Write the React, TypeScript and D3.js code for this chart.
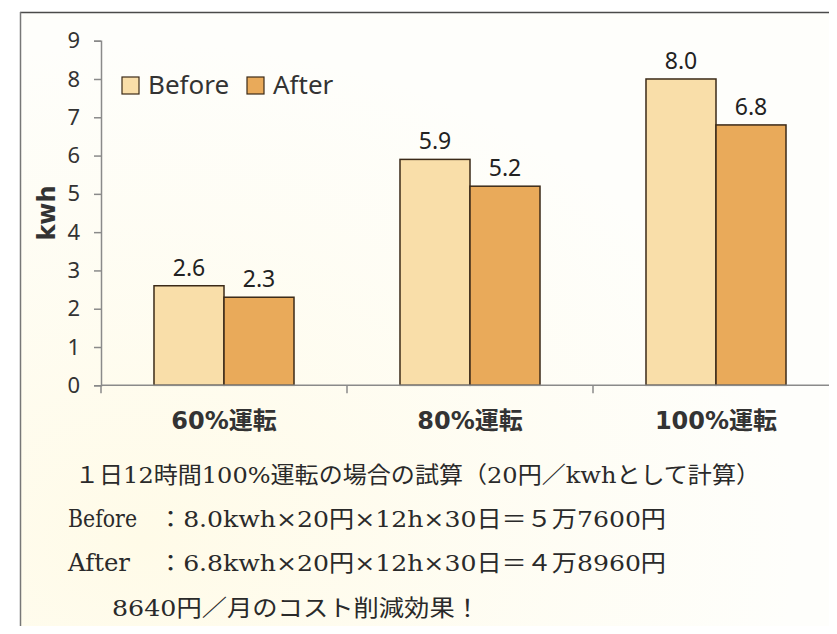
import React, { useEffect, useRef } from 'react';
import * as d3 from 'd3';

const categories = ['60%運転', '80%運転', '100%運転'];
const seriesNames = ['Before', 'After'];
const beforeValues = [2.6, 5.9, 8.0];
const afterValues = [2.3, 5.2, 6.8];
const yTicks = [0, 1, 2, 3, 4, 5, 6, 7, 8, 9];

const noteLine1 = '１日12時間100%運転の場合の試算（20円／kwhとして計算）';
const noteLabels = ['Before', 'After'];
const noteCalcs = ['：8.0kwh×20円×12h×30日＝５万7600円', '：6.8kwh×20円×12h×30日＝４万8960円'];
const noteLine4 = '8640円／月のコスト削減効果！';

const colors: Record<string, string> = { Before: '#f9dea9', After: '#e9aa5a' };

const W = 837;
const H = 634;

const App: React.FC = () => {
  const svgRef = useRef<SVGSVGElement>(null);

  useEffect(() => {
    if (!svgRef.current) return;
    const svg = d3.select(svgRef.current);
    svg.selectAll('*').remove();

    // paper background with a faint scan tint
    const defs = svg.append('defs');
    const grad = defs.append('radialGradient').attr('id', 'tint').attr('cx', '0.15').attr('cy', '0.85').attr('r', '0.8');
    grad.append('stop').attr('offset', '0%').attr('stop-color', '#fffbe8');
    grad.append('stop').attr('offset', '100%').attr('stop-color', '#fefefb');
    svg.append('rect').attr('width', W).attr('height', H).attr('fill', '#ffffff');
    svg.append('rect').attr('x', 20).attr('y', 12).attr('width', W - 20).attr('height', H - 12).attr('fill', 'url(#tint)');

    // frame
    svg.append('line').attr('x1', 20).attr('x2', W).attr('y1', 12.5).attr('y2', 12.5).attr('stroke', '#4a4a4a').attr('stroke-width', 1.5);
    svg.append('line').attr('x1', 20.5).attr('x2', 20.5).attr('y1', 12).attr('y2', H).attr('stroke', '#777').attr('stroke-width', 1.5);

    const plotLeft = 101;
    const y = d3.scaleLinear().domain([0, 9]).range([385.3, 40.7]);
    const x0 = d3.scaleBand<string>().domain(categories).range([plotLeft, plotLeft + 3 * 246]).padding(0);
    const x1 = d3.scaleBand<string>().domain(seriesNames).range([0, x0.bandwidth()]).paddingInner(0).paddingOuter(0.757);

    const g = svg.append('g');

    // y axis
    const yAxis = g.append('g')
      .attr('transform', `translate(${plotLeft},0)`)
      .call(d3.axisLeft(y).tickValues(yTicks).tickSize(7).tickPadding(14).tickFormat(d3.format('d')));
    yAxis.select('.domain').attr('stroke', '#8a8a8a').attr('stroke-width', 1.5);
    yAxis.selectAll('.tick line').attr('stroke', '#8a8a8a').attr('stroke-width', 1.5);
    yAxis.selectAll('.tick text')
      .attr('fill', '#333')
      .attr('font-family', '"Noto Sans", sans-serif')
      .attr('font-size', 22);

    // bars
    const groups = g.selectAll('.grp')
      .data(categories)
      .enter()
      .append('g')
      .attr('transform', d => `translate(${x0(d)},0)`);

    const pairs = (i: number) => [
      { key: 'Before', value: beforeValues[i] },
      { key: 'After', value: afterValues[i] },
    ];

    groups.selectAll('rect')
      .data((_, i) => pairs(i))
      .enter()
      .append('rect')
      .attr('x', d => x1(d.key)!)
      .attr('y', d => y(d.value))
      .attr('width', x1.bandwidth())
      .attr('height', d => y(0) - y(d.value))
      .attr('fill', d => colors[d.key])
      .attr('stroke', '#3b2a18')
      .attr('stroke-width', 1.5);

    groups.selectAll('.val')
      .data((_, i) => pairs(i))
      .enter()
      .append('text')
      .attr('x', d => x1(d.key)! + x1.bandwidth() / 2)
      .attr('y', d => y(d.value) - 10)
      .attr('text-anchor', 'middle')
      .attr('fill', '#222')
      .attr('font-family', '"Noto Sans", sans-serif')
      .attr('font-size', 23)
      .text(d => d.value.toFixed(1));

    // x axis
    const xAxis = g.append('g')
      .attr('transform', `translate(0,${y(0)})`);
    xAxis.append('line')
      .attr('x1', plotLeft).attr('x2', plotLeft + 3 * 246)
      .attr('stroke', '#8a8a8a').attr('stroke-width', 1.5);
    xAxis.selectAll('.xt')
      .data([...categories.map(c => x0(c)!), plotLeft + 3 * 246])
      .enter()
      .append('line')
      .attr('x1', d => d).attr('x2', d => d)
      .attr('y1', 0).attr('y2', 8)
      .attr('stroke', '#8a8a8a').attr('stroke-width', 1.5);
    xAxis.selectAll('.xl')
      .data(categories)
      .enter()
      .append('text')
      .attr('x', d => x0(d)! + x0.bandwidth() / 2)
      .attr('y', 44)
      .attr('text-anchor', 'middle')
      .attr('fill', '#333')
      .attr('font-family', '"DejaVu Sans", "Noto Sans CJK JP", sans-serif')
      .attr('font-weight', 'bold')
      .attr('font-size', 24)
      .text(d => d);

    // y title
    g.append('text')
      .attr('transform', `translate(55,213) rotate(-90)`)
      .attr('text-anchor', 'middle')
      .attr('fill', '#333')
      .attr('font-family', '"DejaVu Sans", sans-serif')
      .attr('font-weight', 'bold')
      .attr('font-size', 24)
      .text('kwh');

    // legend
    const legend = g.append('g').attr('transform', 'translate(122,77)');
    const legendX = [0, 125];
    seriesNames.forEach((s, i) => {
      const lg = legend.append('g').attr('transform', `translate(${legendX[i]},0)`);
      lg.append('rect')
        .attr('width', 17).attr('height', 17)
        .attr('fill', colors[s]).attr('stroke', '#3b2a18').attr('stroke-width', 1.2);
      lg.append('text')
        .attr('x', 26).attr('y', 17)
        .attr('fill', '#333')
        .attr('font-family', '"Noto Sans", sans-serif')
        .attr('font-size', 26)
        .text(s);
    });

    // notes under the chart
    const noteFont = '"DejaVu Serif", "Noto Sans CJK JP", serif';
    const notes = svg.append('g').attr('fill', '#2a2a2a').attr('font-family', noteFont).attr('font-size', 23);
    notes.append('text').attr('x', 75).attr('y', 483).attr('textLength', 685).attr('lengthAdjust', 'spacingAndGlyphs').text(noteLine1);
    const labelLen = [69, 62];
    noteLabels.forEach((lab, i) => {
      const by = 527 + i * 44;
      notes.append('text').attr('x', 68).attr('y', by).attr('font-size', 25)
        .attr('textLength', labelLen[i]).attr('lengthAdjust', 'spacingAndGlyphs').text(lab);
      notes.append('text').attr('x', 158).attr('y', by).attr('textLength', 508).attr('lengthAdjust', 'spacingAndGlyphs').text(noteCalcs[i]);
    });
    notes.append('text').attr('x', 112).attr('y', 616).attr('textLength', 368).attr('lengthAdjust', 'spacingAndGlyphs').text(noteLine4);
  }, []);

  return (
    <div style={{ width: W, height: H, margin: -8, overflow: 'hidden' }}>
      <svg ref={svgRef} width={W} height={H} viewBox={`0 0 ${W} ${H}`} style={{ display: 'block' }} />
    </div>
  );
};

export default App;
